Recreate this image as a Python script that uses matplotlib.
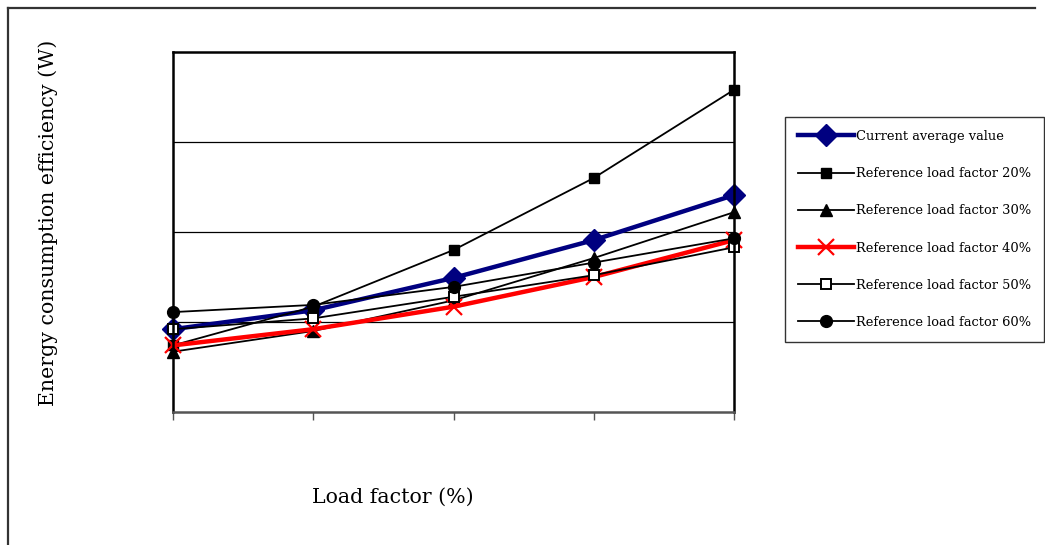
import matplotlib
matplotlib.use("Agg")
import matplotlib.pyplot as plt
from matplotlib.lines import Line2D

plt.rcParams["font.family"] = ["DejaVu Serif"]

# five load-factor steps along x (no tick labels are printed)
steps = [0, 1, 2, 3, 4]

current_avg = [0.92, 1.13, 1.49, 1.91, 2.41]
ref_20 = [0.74, 1.17, 1.80, 2.60, 3.58]
ref_30 = [0.67, 0.90, 1.24, 1.71, 2.22]
ref_40 = [0.74, 0.92, 1.17, 1.50, 1.91]
ref_50 = [0.92, 1.04, 1.28, 1.52, 1.83]
ref_60 = [1.11, 1.19, 1.39, 1.66, 1.93]

labels = ["Current average value", "Reference load factor 20%",
          "Reference load factor 30%", "Reference load factor 40%",
          "Reference load factor 50%", "Reference load factor 60%"]

NAVY, RED = "#000080", "#FF0000"

fig = plt.figure(figsize=(10.45, 5.45), dpi=100)
ax = fig.add_axes([173 / 1045, 1 - 412 / 545, 561 / 1045, 360 / 545])

common = dict(clip_on=False)
ax.plot(steps, current_avg, color=NAVY, lw=3.2, marker="D", ms=11,
        mfc=NAVY, mec=NAVY, label=labels[0], **common)
ax.plot(steps, ref_20, color="black", lw=1.3, marker="s", ms=7.5,
        mfc="black", mec="black", label=labels[1], **common)
ax.plot(steps, ref_30, color="black", lw=1.3, marker="^", ms=8.5,
        mfc="black", mec="black", label=labels[2], **common)
ax.plot(steps, ref_40, color=RED, lw=3.2, marker="x", ms=12, mew=1.6,
        mec=RED, label=labels[3], **common)
ax.plot(steps, ref_50, color="black", lw=1.3, marker="s", ms=7,
        mfc="white", mec="black", mew=1.4, label=labels[4], **common)
ax.plot(steps, ref_60, color="black", lw=1.3, marker="o", ms=8.5,
        mfc="black", mec="black", label=labels[5], **common)

ax.set_xlim(0, 4)
ax.set_ylim(0, 4)
ax.set_xticks(steps)
ax.set_xticklabels([])
ax.set_yticks([1, 2, 3])
ax.set_yticklabels([])
ax.grid(axis="y", color="black", lw=0.9)
ax.tick_params(axis="x", direction="out", length=6, width=1, color="#555555")
ax.tick_params(axis="y", direction="in", length=0)
for side in ("left", "top", "right"):
    ax.spines[side].set_linewidth(1.8)
    ax.spines[side].set_color("black")
ax.spines["bottom"].set_linewidth(1.8)
ax.spines["bottom"].set_color("#555555")

fig.text(48 / 1045, 1 - 223 / 545, "Energy consumption efficiency (W)",
         rotation=90, ha="center", va="center", fontsize=14.8)
fig.text(393 / 1045, 1 - 497 / 545, "Load factor (%)",
         ha="center", va="center", fontsize=14.8)

leg = ax.legend(loc="upper left", bbox_to_anchor=(785 / 1045, 1 - 117 / 545),
                bbox_transform=fig.transFigure, fontsize=9.4, frameon=True,
                fancybox=False, edgecolor="black", borderaxespad=0,
                handlelength=4.3, handletextpad=0.12, labelspacing=1.85,
                borderpad=1.0, numpoints=1)
leg.get_frame().set_linewidth(1.0)

# outer chart border (top and left edges)
border = dict(color="#333333", lw=1.6, transform=fig.transFigure)
fig.add_artist(Line2D([8 / 1045, 1035 / 1045], [1 - 8 / 545, 1 - 8 / 545], **border))
fig.add_artist(Line2D([8 / 1045, 8 / 1045], [1 - 8 / 545, 0], **border))

fig.savefig("out.png", dpi=100)
